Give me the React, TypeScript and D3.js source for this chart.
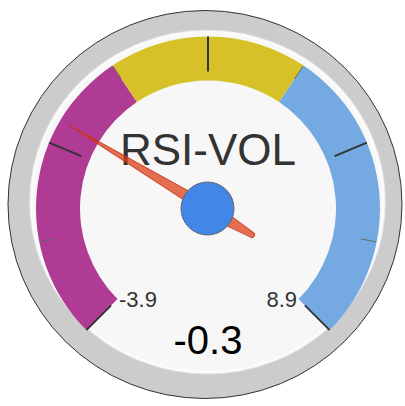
import React from "react";
import * as d3 from "d3";

const TITLE = "RSI-VOL";
const VALUE = -0.3;
const MIN = -3.9;
const MAX = 8.9;
const MAJOR_TICKS = [-3.9, -0.7, 2.5, 5.7, 8.9];
const MINOR_TICKS = [-2.3, 0.9, 4.1, 7.3];
const BAND_FROM = [-3.9, 0.9, 4.1];
const BAND_TO = [0.9, 4.1, 8.9];
const BAND_COLORS = ["#b03b94", "#d6c228", "#74aae1"];
const TICK_LABELS = ["-3.9", "8.9"];

const W = 405;
const H = 406;
const cx = 208;
const cy = 208.5;
const rad = (deg: number) => (deg * Math.PI) / 180;

export default function App() {
  const angle = d3.scaleLinear().domain([MIN, MAX]).range([-135, 135]);
  const arc = d3.arc<any>().innerRadius(128).outerRadius(172);
  const pt = (v: number, r: number) => {
    const a = rad(angle(v));
    return [cx + r * Math.sin(a), cy - r * Math.cos(a)];
  };
  const needleAngle = angle(VALUE);
  const L = 163, w = 6, T = 51, tr = 2.8;
  const needlePath = `M0,${-L} L${w},0 Q${w},${T * 0.5} ${tr},${T} A${tr},${tr} 0 0 1 ${-tr},${T} Q${-w},${T * 0.5} ${-w},0 Z`;
  const font = "'Liberation Sans', Arial, sans-serif";
  return (
    <svg width={W} height={H} style={{ position: "absolute", left: 0, top: 0 }}>
      <ellipse cx={205} cy={204.5} rx={197} ry={194} fill="#cccccc" stroke="#333" strokeWidth={1} />
      <ellipse cx={207.5} cy={202} rx={178.5} ry={172.5} fill="#dedede" />
      <ellipse cx={207.5} cy={202} rx={176} ry={170} fill="#f7f7f7" stroke="#fbfbfb" strokeWidth={3} />
      {BAND_FROM.map((f, i) => (
        <path
          key={i}
          transform={`translate(${cx},${cy})`}
          d={arc({ startAngle: rad(angle(f)), endAngle: rad(angle(BAND_TO[i])) }) as string}
          fill={BAND_COLORS[i]}
        />
      ))}
      {MINOR_TICKS.map((v, i) => {
        const [x1, y1] = pt(v, 156);
        const [x2, y2] = pt(v, 171);
        return <line key={"m" + i} x1={x1} y1={y1} x2={x2} y2={y2} stroke="#666" strokeWidth={1} />;
      })}
      {MAJOR_TICKS.map((v, i) => {
        const [x1, y1] = pt(v, 137);
        const [x2, y2] = pt(v, 172);
        return <line key={"M" + i} x1={x1} y1={y1} x2={x2} y2={y2} stroke="#333" strokeWidth={2} />;
      })}
      <text x={cx - 89} y={307} fontFamily={font} fontSize={22} fill="#333" textAnchor="start">{TICK_LABELS[0]}</text>
      <text x={cx + 89} y={307} fontFamily={font} fontSize={22} fill="#333" textAnchor="end">{TICK_LABELS[1]}</text>
      <text x={cx} y={165} fontFamily={font} fontSize={44} fill="#333" textAnchor="middle">{TITLE}</text>
      <path
        transform={`translate(${cx},${cy}) rotate(${needleAngle})`}
        d={needlePath}
        fill="#dc3912"
        fillOpacity={0.72}
        stroke="#c63310"
        strokeOpacity={0.8}
        strokeWidth={1}
      />
      <circle cx={cx - 0.5} cy={cy} r={26.5} fill="#4286e8" stroke="#666" strokeWidth={1} />
      <text x={cx} y={354} fontFamily={font} fontSize={40} fill="#000" textAnchor="middle">{VALUE.toFixed(1)}</text>
    </svg>
  );
}
